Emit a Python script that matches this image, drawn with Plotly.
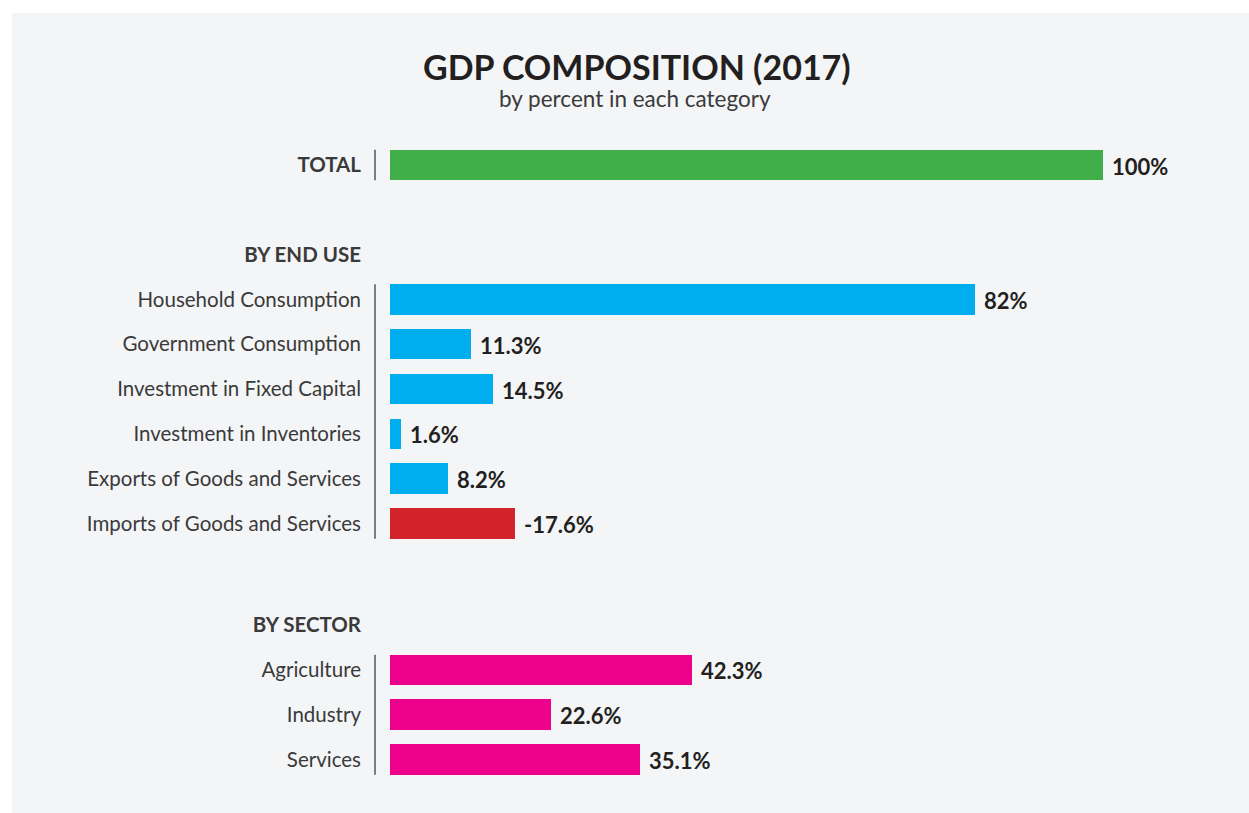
import plotly.graph_objects as go

# ---- data -------------------------------------------------------------
total_label = "TOTAL"
total_values = [100]

end_use_header = "BY END USE"
end_use_labels = [
    "Household Consumption",
    "Government Consumption",
    "Investment in Fixed Capital",
    "Investment in Inventories",
    "Exports of Goods and Services",
    "Imports of Goods and Services",
]
end_use_values = [82, 11.3, 14.5, 1.6, 8.2, -17.6]

sector_header = "BY SECTOR"
sector_labels = ["Agriculture", "Industry", "Services"]
sector_values = [42.3, 22.6, 35.1]

title_text = "GDP COMPOSITION (2017)"
subtitle_text = "by percent in each category"

# ---- styling ----------------------------------------------------------
FONT = "Lato, 'Open Sans', sans-serif"
INK = "#231f20"
LABEL_INK = "#3a3a3a"
PANEL = "#f4f5f7"
GREEN = "#40ae49"
BLUE = "#00aeef"
RED = "#d2232a"
MAGENTA = "#ec008c"

W, H = 1249, 813
M_L, M_T = 375, 130
PLOT_W, PLOT_H = W - M_L, H - M_T

# vertical layout (in row units)
ROW_PX = 44.8
ZERO_ROW_PX = 165          # pixel centre of the first row
BAR_W = 0.68

total_pos = 0.0
end_header_pos = total_pos + 2
end_pos = [end_header_pos + 1 + i for i in range(len(end_use_labels))]
sector_header_pos = end_pos[-1] + 2.27
sector_pos = [sector_header_pos + 1 + i for i in range(len(sector_labels))]

y_top = (M_T - ZERO_ROW_PX) / ROW_PX
y_bottom = (H - ZERO_ROW_PX) / ROW_PX

# horizontal scale
PX_PER_UNIT = 7.13
BAR_GAP_PX = 15            # gap between separator line and bar start
x_min = -BAR_GAP_PX / PX_PER_UNIT
x_max = x_min + PLOT_W / PX_PER_UNIT


def paper_x(px):
    return (px - M_L) / PLOT_W


def paper_y(py):
    return (H - py) / PLOT_H


def fmt(v):
    return f"{v:g}%"


fig = go.Figure()

end_colors = [RED if v < 0 else BLUE for v in end_use_values]

groups = [
    ([total_pos], total_values, [GREEN]),
    (end_pos, end_use_values, end_colors),
    (sector_pos, sector_values, [MAGENTA] * len(sector_values)),
]

annotations = []
for ys, vals, cols in groups:
    fig.add_trace(go.Bar(
        x=[abs(v) for v in vals],
        y=ys,
        orientation="h",
        width=BAR_W,
        marker=dict(color=cols, line=dict(width=0)),
        hoverinfo="skip",
        showlegend=False,
    ))
    for yv, v in zip(ys, vals):
        annotations.append(dict(
            x=abs(v), y=yv, xref="x", yref="y",
            text=f"<b>{fmt(v)}</b>", showarrow=False,
            xanchor="left", yanchor="middle", xshift=7, yshift=-1,
            font=dict(family=FONT, size=22, color=INK),
        ))

# separators to the left of each group of bars
shapes = [
    dict(type="rect", xref="paper", yref="paper",
         x0=paper_x(12), x1=1, y0=0, y1=paper_y(13),
         fillcolor=PANEL, line=dict(width=0), layer="below"),
]
for ys in ([total_pos], end_pos, sector_pos):
    shapes.append(dict(
        type="line", xref="paper", yref="y",
        x0=0, x1=0, y0=ys[0] - 0.34, y1=ys[-1] + 0.34,
        line=dict(color="#555555", width=1.5),
    ))

# category labels (section headers in bold)
tickvals = [total_pos, end_header_pos] + end_pos + [sector_header_pos] + sector_pos
ticktext = (
    [f"<b>{total_label}</b>", f"<b>{end_use_header}</b>"]
    + end_use_labels
    + [f"<b>{sector_header}</b>"]
    + sector_labels
)

annotations += [
    dict(x=paper_x(637), y=paper_y(67), xref="paper", yref="paper",
         text=f"<b>{title_text}</b>", showarrow=False,
         xanchor="center", yanchor="middle",
         font=dict(family=FONT, size=34, color=INK)),
    dict(x=paper_x(635), y=paper_y(99), xref="paper", yref="paper",
         text=subtitle_text, showarrow=False,
         xanchor="center", yanchor="middle",
         font=dict(family=FONT, size=22.5, color=LABEL_INK)),
]

fig.update_layout(
    width=W, height=H,
    margin=dict(l=M_L, r=0, t=M_T, b=0, pad=0),
    paper_bgcolor="white",
    plot_bgcolor="rgba(0,0,0,0)",
    font=dict(family=FONT, size=20.5, color=LABEL_INK),
    bargap=0,
    xaxis=dict(range=[x_min, x_max], visible=False, fixedrange=True),
    yaxis=dict(
        range=[y_bottom, y_top],
        tickvals=tickvals, ticktext=ticktext,
        showgrid=False, zeroline=False, showline=False,
        ticks="", ticklabelstandoff=13,
        tickfont=dict(family=FONT, size=20.5, color=LABEL_INK),
        fixedrange=True,
    ),
    shapes=shapes,
    annotations=annotations,
)

fig.write_html("out.html")
